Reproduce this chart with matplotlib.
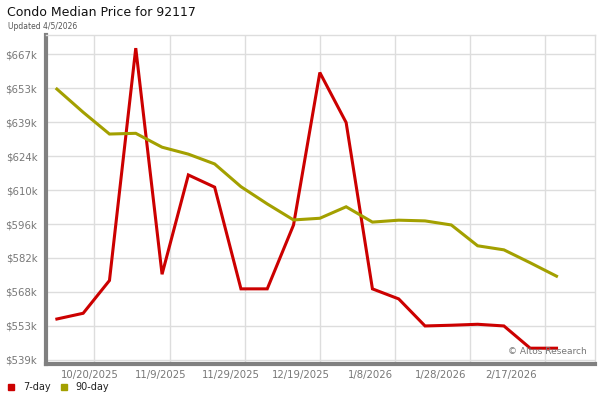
import datetime as dt

import matplotlib
matplotlib.use("Agg")
import matplotlib.dates as mdates
import matplotlib.pyplot as plt
from matplotlib.patches import Rectangle

# weekly data points, 10/10/2025 .. 2/20/2026
start_date = dt.date(2025, 10, 10)
num_weeks = 20
price_7day = [556.3, 558.7, 572.4, 669.5, 575.0, 616.5, 611.4, 568.9, 568.9, 595.6,
              659.3, 638.4, 568.9, 564.7, 553.4, 553.7, 554.1, 553.4, 544.1, 544.1]
price_90day = [652.4, 642.7, 633.6, 633.9, 628.1, 625.2, 621.1, 611.6, 604.4, 597.7,
               598.4, 603.2, 596.8, 597.6, 597.3, 595.6, 586.9, 585.2, 579.8, 574.2]

x_labels = ["10/20/2025", "11/9/2025", "11/29/2025", "12/19/2025",
            "1/8/2026", "1/28/2026", "2/17/2026"]
grid_start = dt.date(2025, 10, 20)
y_ticks = [539.2 + 14.2 * i for i in range(10)]

RED = "#cc0000"
OLIVE = "#a3a000"

dates = [start_date + dt.timedelta(days=7 * i) for i in range(num_weeks)]
xnum = mdates.date2num(dates)

fig = plt.figure(figsize=(6, 4), dpi=100)
ax = fig.add_axes([0.076, 0.09, 0.916, 0.822])

ax.plot(xnum, price_7day, color=RED, lw=2.2, solid_joinstyle="miter")
ax.plot(xnum, price_90day, color=OLIVE, lw=2.2, solid_joinstyle="miter")

ax.set_xlim(xnum[0] - 3, xnum[-1] + 10.3)
ax.set_ylim(537.5, 674.9)

# grid lines every 20 days, labels slightly offset as in the original
g0 = mdates.date2num(grid_start)
ax.set_xticks([g0 + 20 * i for i in range(len(x_labels))])
ax.set_xticklabels([])
ax.set_xticks([g0 - 1.15 + 18.68 * i for i in range(len(x_labels))], minor=True)
ax.set_xticklabels(x_labels, minor=True)
ax.tick_params(axis="x", which="both", length=0, pad=4, labelsize=7.3, labelcolor="#777777")

ax.set_yticks(y_ticks)
ax.set_yticklabels(["${:.0f}k".format(v) for v in y_ticks])
ax.tick_params(axis="y", length=0, pad=6, labelsize=7.3, labelcolor="#777777")

ax.grid(True, which="major", color="#dddddd", lw=1)
ax.set_axisbelow(True)

for side in ["top", "right"]:
    ax.spines[side].set_color("#dddddd")
    ax.spines[side].set_linewidth(1)
for side in ["left", "bottom"]:
    ax.spines[side].set_color("#808080")
    ax.spines[side].set_linewidth(3)

ax.text(0.985, 0.025, "\u00a9 Altos Research", transform=ax.transAxes,
        ha="right", va="bottom", fontsize=6.5, color="#777777")

fig.text(0.012, 0.985, "Condo Median Price for 92117", ha="left", va="top",
         fontsize=9, color="#111111")
fig.text(0.013, 0.945, "Updated 4/5/2026", ha="left", va="top",
         fontsize=5.5, color="#555555")

# legend at bottom left
legend_items = [("7-day", RED), ("90-day", OLIVE)]
lx = 0.013
for name, color in legend_items:
    fig.patches.append(Rectangle((lx, 0.025), 0.01, 0.015, color=color,
                                 transform=fig.transFigure, figure=fig))
    fig.text(lx + 0.025, 0.033, name, ha="left", va="center", fontsize=7, color="#222222")
    lx += 0.088

fig.savefig("out.png", dpi=100)
